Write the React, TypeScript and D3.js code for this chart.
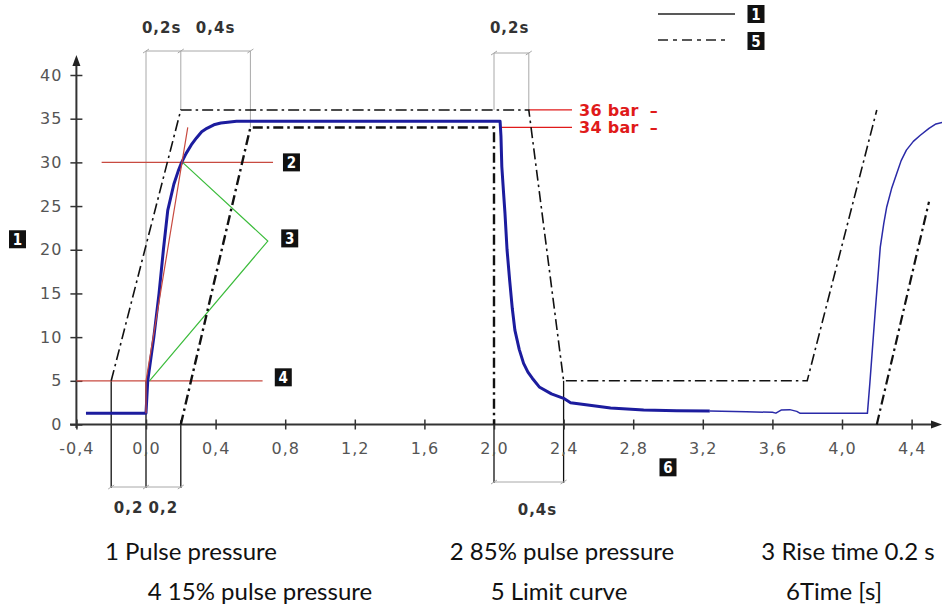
import { useEffect, useRef } from "react";
import * as d3 from "d3";

// axis ticks
const xTicks = [-0.4, 0, 0.4, 0.8, 1.2, 1.6, 2.0, 2.4, 2.8, 3.2, 3.6, 4.0, 4.4];
const yTicks = [0, 5, 10, 15, 20, 25, 30, 35, 40];

// 1 pulse pressure (thick part, then thin tail)
const pulseT = [-0.345, 0.0, 0.01, 0.045, 0.075, 0.1, 0.125, 0.16, 0.185, 0.205, 0.23, 0.26, 0.29, 0.32, 0.35, 0.39, 0.43, 0.47, 0.52, 2.035,
  2.04, 2.045, 2.055, 2.063, 2.075, 2.09, 2.105, 2.12, 2.145, 2.17, 2.195, 2.22, 2.26, 2.33, 2.4, 2.44, 2.55, 2.67, 2.86, 3.05, 3.24];
const pulseV = [1.3, 1.3, 5, 10, 15, 20, 24.5, 27.5, 29, 30, 31, 32, 32.8, 33.5, 33.9, 34.3, 34.5, 34.6, 34.7, 34.7,
  33, 29.5, 26.5, 24.2, 20, 16.5, 13.3, 10.8, 8.6, 7.0, 6.0, 5.3, 4.3, 3.5, 3.0, 2.5, 2.2, 1.9, 1.66, 1.56, 1.54];
const tailT = [3.24, 3.45, 3.6, 3.62, 3.65, 3.7, 3.74, 3.76, 4.146, 4.16, 4.19, 4.22, 4.24, 4.257, 4.285, 4.314, 4.34, 4.37, 4.41, 4.45, 4.5, 4.54, 4.58];
const tailV = [1.54, 1.45, 1.4, 1.3, 1.65, 1.7, 1.5, 1.28, 1.28, 4.7, 12.7, 20.3, 23, 24.9, 27.0, 28.7, 30.2, 31.4, 32.4, 33.1, 33.9, 34.4, 34.6];

// 5 limit curve
const upperT = [-0.2, 0.2, 2.2, 2.4, 3.8, 4.2];
const upperV = [5, 36, 36, 5, 5, 36];
const lowerT = [0.2, 0.6, 2.0, 2.0];
const lowerV = [0, 34, 34, 0];
const lowerEndT = [4.2, 4.5];
const lowerEndV = [0, 25.5];

// helper construction lines
const riseT = [0, 0, 0.24];
const riseV = [1.3, 5, 34];
const greenT = [0.21, 0.7, 0.02];
const greenV = [30, 21, 5];
const levelV = [30, 5];
const levelT0 = [-0.255, -0.4];
const levelT1 = [0.73, 0.67];

// numbered markers: label, t, v
const markerLabels = ["2", "3", "4", "6"];
const markerT = [0.836, 0.826, 0.789, 3.0];
const markerV = [30, 21.3, 5.4, -4.9];

const captionRow1 = ["1 Pulse pressure", "2 85% pulse pressure", "3 Rise time 0.2 s"];
const captionRow1X = [191, 562, 848];
const captionRow2 = ["4 15% pulse pressure", "5 Limit curve", "6Time [s]"];
const captionRow2X = [260, 559, 834];

const W = 942;
const H = 607;
const x = d3.scaleLinear().domain([-0.4, 4.4]).range([76.4, 911.6]);
const y = d3.scaleLinear().domain([0, 40]).range([424.5, 75]);
const fmt = (d: number) => d.toFixed(1).replace(".", ",");

const zip = (ts: number[], vs: number[]) => ts.map((t, i) => [t, vs[i]] as [number, number]);
const line = d3.line<[number, number]>().x((d) => x(d[0])).y((d) => y(d[1]));

const GRAY = "#a8a8a8";
const BLUE = "#1c1c9e";
const RED = "#c84a40";
const BRIGHT = "#e01a1a";
const DIM_FONT = "DejaVu Sans, Verdana, sans-serif";

function Marker({ cx, cy, label }: { cx: number; cy: number; label: string }) {
  return (
    <g>
      <rect x={cx - 8.5} y={cy - 9} width={17} height={18} fill="#111" />
      <text x={cx} y={cy + 5.5} textAnchor="middle" fill="#fff" fontSize={15} fontWeight="bold"
        fontFamily="Liberation Sans Narrow, DejaVu Sans Condensed, sans-serif">{label}</text>
    </g>
  );
}

function Dim({ ts, yy, color }: { ts: number[]; yy: number; color: string }) {
  return (
    <g stroke={color} strokeWidth={1}>
      <line x1={x(ts[0])} x2={x(ts[ts.length - 1])} y1={yy} y2={yy} />
      {ts.map((t) => (
        <line key={t} x1={x(t) - 3} x2={x(t) + 3} y1={yy + 2} y2={yy - 2} />
      ))}
    </g>
  );
}

export default function App() {
  const xAxisRef = useRef<SVGGElement>(null);
  const yAxisRef = useRef<SVGGElement>(null);

  useEffect(() => {
    const gx = d3.select(xAxisRef.current!);
    gx.call(d3.axisBottom(x).tickValues(xTicks).tickFormat((d) => fmt(+d)).tickSizeOuter(0));
    gx.select(".domain").remove();
    gx.selectAll(".tick line").attr("y1", -5).attr("y2", 5).attr("stroke", "#333").attr("stroke-width", 1.5);
    gx.selectAll(".tick text")
      .attr("y", 29).attr("dy", null)
      .attr("font-size", 16).attr("font-family", DIM_FONT).attr("fill", "#555").attr("letter-spacing", 1);

    const gy = d3.select(yAxisRef.current!);
    gy.call(d3.axisLeft(y).tickValues(yTicks).tickSizeOuter(0));
    gy.select(".domain").remove();
    gy.selectAll(".tick line").attr("x1", -6).attr("x2", 6).attr("stroke", "#333").attr("stroke-width", 1.5);
    gy.selectAll(".tick text")
      .attr("x", -14)
      .attr("font-size", 16).attr("font-family", DIM_FONT).attr("fill", "#555").attr("letter-spacing", 1);
  }, []);

  const x0 = x(-0.4);
  const yTop = y(36);
  const yMid = y(34);

  return (
    <svg width={W} height={H} style={{ position: "absolute", left: 0, top: 0, background: "#fff" }}>
      {/* dimension guides, top */}
      <g stroke={GRAY} strokeWidth={1}>
        <line x1={x(0)} x2={x(0)} y1={51} y2={y(5)} />
        <line x1={x(0.2)} x2={x(0.2)} y1={51} y2={yTop} />
        <line x1={x(0.6)} x2={x(0.6)} y1={51} y2={yMid} />
        <line x1={x(2.0)} x2={x(2.0)} y1={53} y2={yTop} />
        <line x1={x(2.2)} x2={x(2.2)} y1={53} y2={yTop} />
      </g>
      <Dim ts={[0, 0.2, 0.6]} yy={51} color={GRAY} />
      <Dim ts={[2.0, 2.2]} yy={53} color={GRAY} />
      <g fontFamily={DIM_FONT} fontWeight="bold" fontSize={15} fill="#333" letterSpacing={1} textAnchor="middle">
        <text x={x(0.09)} y={33}>0,2s</text>
        <text x={x(0.4)} y={33}>0,4s</text>
        <text x={x(2.09)} y={33}>0,2s</text>
        <text x={x(-0.1)} y={513}>0,2</text>
        <text x={x(0.1)} y={513}>0,2</text>
        <text x={x(2.25)} y={515}>0,4s</text>
      </g>

      {/* dimension guides, bottom */}
      <g stroke="#111" strokeWidth={1.3}>
        <line x1={x(-0.2)} x2={x(-0.2)} y1={y(5)} y2={488} />
        <line x1={x(0)} x2={x(0)} y1={y(5)} y2={488} />
        <line x1={x(0.2)} x2={x(0.2)} y1={y(0.5)} y2={488} />
        <line x1={x(2.0)} x2={x(2.0)} y1={y(0)} y2={483} />
        <line x1={x(2.4)} x2={x(2.4)} y1={y(5)} y2={483} />
      </g>
      <Dim ts={[-0.2, 0, 0.2]} yy={487} color={GRAY} />
      <Dim ts={[2.0, 2.4]} yy={482} color={GRAY} />

      {/* axes */}
      <g stroke="#333" strokeWidth={2}>
        <line x1={x0} x2={x0} y1={428} y2={62} />
        <line x1={70} x2={934} y1={y(0)} y2={y(0)} />
      </g>
      <path d={`M${x0},55 L${x0 - 4},66 L${x0 + 4},66 Z`} fill="#222" />
      <path d={`M942,${y(0)} L931,${y(0) - 4} L931,${y(0) + 4} Z`} fill="#222" />
      <g ref={xAxisRef} transform={`translate(0,${y(0)})`} />
      <g ref={yAxisRef} transform={`translate(${x0},0)`} />

      {/* 15% and 85% levels, rise line, rise time */}
      <g stroke={RED} strokeWidth={1.2} fill="none">
        {levelV.map((v, i) => (
          <line key={v} x1={x(levelT0[i])} x2={x(levelT1[i])} y1={y(v)} y2={y(v)} />
        ))}
      </g>
      <path d={line(zip(greenT, greenV))!} stroke="#3cbc3c" strokeWidth={1.2} fill="none" />

      {/* 36 / 34 bar */}
      <line x1={x(2.2)} x2={572} y1={yTop} y2={yTop} stroke={BRIGHT} strokeWidth={1.2} />
      <line x1={x(2.035)} x2={572} y1={yMid} y2={yMid} stroke={BRIGHT} strokeWidth={1.2} />
      <g fill={BRIGHT} fontFamily={DIM_FONT} fontWeight="bold" fontSize={16} letterSpacing={0.3}>
        <text x={579} y={yTop + 6}>36 bar<tspan dx={11}>–</tspan></text>
        <text x={579} y={yMid + 6}>34 bar<tspan dx={11}>–</tspan></text>
      </g>

      {/* limit curve */}
      <path d={line(zip(upperT, upperV))!} stroke="#111" strokeWidth={1.6} fill="none" strokeDasharray="11,4,2.5,4" />
      <path d={line(zip(lowerT, lowerV))!} stroke="#111" strokeWidth={2.4} fill="none" strokeDasharray="10,4,2.5,4" />
      <path d={line(zip(lowerEndT, lowerEndV))!} stroke="#111" strokeWidth={2.2} fill="none" strokeDasharray="10,4,2.5,4" />

      {/* pulse pressure */}
      <path d={line(zip(pulseT, pulseV))!} stroke={BLUE} strokeWidth={3} fill="none" strokeLinejoin="round" />
      <path d={line(zip(tailT, tailV))!} stroke="#2a2aa8" strokeWidth={1.5} fill="none" strokeLinejoin="round" />
      <path d={line(zip(riseT, riseV))!} stroke={RED} strokeWidth={1.2} fill="none" />

      {/* legend */}
      <line x1={658} x2={735} y1={14} y2={14} stroke="#222" strokeWidth={1.3} />
      <line x1={658} x2={728} y1={40} y2={40} stroke="#222" strokeWidth={1.3} strokeDasharray="10,5,4,5" />
      <Marker cx={756} cy={14} label="1" />
      <Marker cx={756} cy={41} label="5" />

      {/* markers */}
      <Marker cx={17.5} cy={y(21.2)} label="1" />
      {markerLabels.map((l, i) => (
        <Marker key={l} cx={x(markerT[i])} cy={y(markerV[i])} label={l} />
      ))}

      {/* captions */}
      <g fontFamily="Lato, Open Sans, sans-serif" fontSize={24} fill="#111" textAnchor="middle">
        {captionRow1.map((c, i) => (
          <text key={c} x={captionRow1X[i]} y={560}>{c}</text>
        ))}
        {captionRow2.map((c, i) => (
          <text key={c} x={captionRow2X[i]} y={600}>{c}</text>
        ))}
      </g>
    </svg>
  );
}
